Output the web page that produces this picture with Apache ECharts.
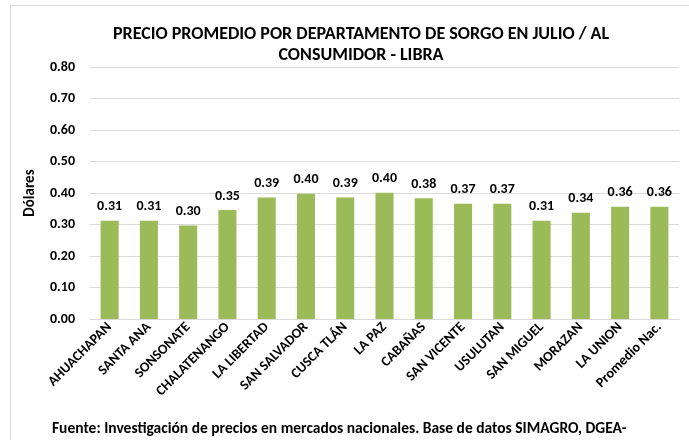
<!DOCTYPE html>
<html>
<head>
<meta charset="utf-8">
<script src="https://cdn.jsdelivr.net/npm/echarts@6/dist/echarts.min.js"></script>
<style>
  html, body { margin: 0; padding: 0; background: #fff; }
  #chart { width: 689px; height: 440px; }
</style>
</head>
<body>
<div id="chart"></div>
<script>
// departamentos y precio promedio (US$ / libra)
const categories = ['AHUACHAPAN', 'SANTA ANA', 'SONSONATE', 'CHALATENANGO', 'LA LIBERTAD', 'SAN SALVADOR',
  'CUSCA TLÁN', 'LA PAZ', 'CABAÑAS', 'SAN VICENTE', 'USULUTAN', 'SAN MIGUEL', 'MORAZAN', 'LA UNION', 'Promedio Nac.']
const precios = [0.312, 0.312, 0.297, 0.346, 0.386, 0.398, 0.386, 0.401, 0.383, 0.366, 0.366, 0.312, 0.337, 0.356, 0.356]
const yTicks = [0, 0.8, 0.1] // min, max, intervalo

const font = 'Carlito, Lato, sans-serif'
const chart = echarts.init(document.getElementById('chart'))

const option = {
  animation: false,
  title: {
    text: 'PRECIO PROMEDIO POR DEPARTAMENTO DE SORGO EN JULIO / AL\nCONSUMIDOR - LIBRA',
    left: 356,
    top: 19,
    textAlign: 'center',
    textStyle: { fontFamily: font, fontWeight: 'bold', fontSize: 18, color: '#000', lineHeight: 21 }
  },
  graphic: [
    {
      type: 'rect',
      shape: { x: 10.5, y: 5.5, width: 700, height: 460 },
      style: { fill: 'none', stroke: '#d9d9d9', lineWidth: 1 },
      silent: true
    },
    {
      type: 'text',
      left: 52,
      top: 421,
      style: {
        text: 'Fuente: Investigación de precios en mercados nacionales. Base de datos SIMAGRO, DGEA-',
        font: 'bold 15.5px ' + font,
        fill: '#000'
      }
    }
  ],
  grid: { left: 90, right: 10, top: 67, bottom: 121 },
  xAxis: {
    type: 'category',
    data: categories,
    axisTick: { show: false },
    axisLine: { lineStyle: { color: '#d9d9d9' } },
    axisLabel: {
      rotate: 45,
      interval: 0,
      margin: 6,
      fontFamily: font,
      fontWeight: 'bold',
      fontSize: 14,
      color: '#000'
    }
  },
  yAxis: {
    type: 'value',
    min: yTicks[0],
    max: yTicks[1],
    interval: yTicks[2],
    name: 'Dólares',
    nameLocation: 'middle',
    nameGap: 52,
    nameTextStyle: { fontFamily: font, fontWeight: 'bold', fontSize: 15, color: '#000' },
    axisLine: { show: false },
    axisTick: { show: false },
    splitLine: { lineStyle: { color: '#d9d9d9' } },
    axisLabel: {
      margin: 15,
      fontFamily: font,
      fontWeight: 'bold',
      fontSize: 14,
      color: '#000',
      formatter: v => v.toFixed(2)
    }
  },
  series: [
    {
      type: 'bar',
      data: precios,
      barWidth: '46%',
      itemStyle: { color: '#9bbb59' },
      label: {
        show: true,
        position: 'top',
        distance: 7,
        fontFamily: font,
        fontWeight: 'bold',
        fontSize: 14,
        color: '#000',
        formatter: p => p.value.toFixed(2)
      }
    }
  ]
}

chart.setOption(option)
</script>
</body>
</html>
